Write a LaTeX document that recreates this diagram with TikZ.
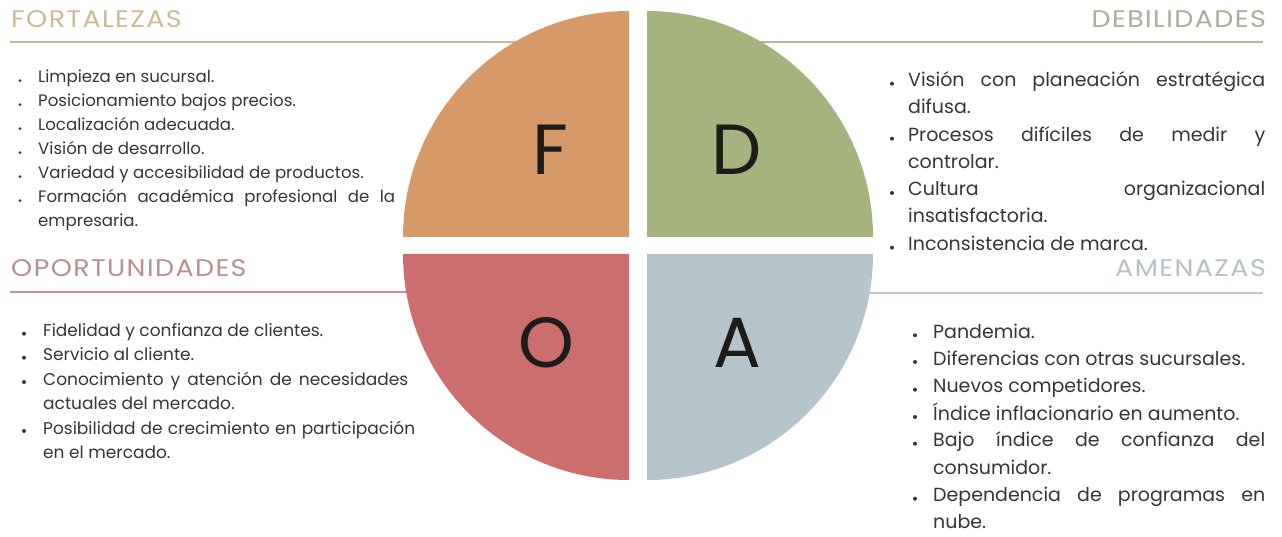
\documentclass[tikz,border=0pt]{standalone}
\usepackage{fontspec}
\setmainfont{Poppins}
\newfontfamily\headfont[LetterSpace=6,FakeStretch=1.12]{Poppins}
\definecolor{fq}{HTML}{D59A67}
\definecolor{dq}{HTML}{A5B37E}
\definecolor{oq}{HTML}{CC6E6E}
\definecolor{aq}{HTML}{B5C5CB}
\definecolor{fh}{HTML}{CDB996}
\definecolor{dh}{HTML}{ADAC98}
\definecolor{oh}{HTML}{B98F8F}
\definecolor{ah}{HTML}{B5C1C7}
\definecolor{fl}{HTML}{C6B894}
\definecolor{dl}{HTML}{B3B798}
\definecolor{ol}{HTML}{C39393}
\definecolor{al}{HTML}{BCC7CC}
\definecolor{txt}{HTML}{363636}
\definecolor{big}{HTML}{1E1C1A}
\tikzset{
  head/.style={inner sep=0pt, font=\headfont\fontsize{24}{24}\selectfont},
  hline/.style={line width=2pt},
  big/.style={anchor=base, inner sep=0pt, text=big, font=\fontsize{71}{71}\selectfont},
  sm/.style={anchor=base west, inner sep=0pt, text=txt, font=\fontsize{16.6}{18}\selectfont},
  om/.style={anchor=base west, inner sep=0pt, text=txt, font=\fontsize{17}{18}\selectfont},
  lg/.style={anchor=base west, inner sep=0pt, text=txt, font=\fontsize{19}{20}\selectfont},
  bul/.style={fill=txt}
}
\begin{document}
\begin{tikzpicture}[x=1pt,y=-1pt]
\useasboundingbox (0,0) rectangle (1282,537);
\fill[white] (0,0) rectangle (1282,537);
% header lines
\draw[hline, fl] (10,42) -- (629,42);
\draw[hline, dl] (647,42) -- (1263,42);
\draw[hline, ol] (10,292) -- (629,292);
\draw[hline, al] (647,293) -- (1263,293);
% quadrants
\fill[fq] (629,237) -- ++(-226pt,0) arc[start angle=180,end angle=90,radius=226pt] -- cycle;
\fill[dq] (647,237) -- ++(226pt,0) arc[start angle=0,end angle=90,radius=226pt] -- cycle;
\fill[oq] (629,254) -- ++(-226pt,0) arc[start angle=180,end angle=270,radius=226pt] -- cycle;
\fill[aq] (647,254) -- ++(226pt,0) arc[start angle=0,end angle=-90,radius=226pt] -- cycle;
% big letters
\node[big] (lf) at (550,175) {F};
\node[big] (ld) at (737,175) {D};
\node[big] (lo) at (546,367) {O};
\node[big] (la) at (737,367) {A};
% headers
\node[head, anchor=base west, text=fh] (hf) at (11,28) {FORTALEZAS};
\node[head, anchor=base east, text=dh] (hd) at (1266,28) {DEBILIDADES};
\node[head, anchor=base west, text=oh] (ho) at (11,277) {OPORTUNIDADES};
\node[head, anchor=base east, text=ah] (ha) at (1266,277) {AMENAZAS};
% Fortalezas list
\foreach \y in {82.7,106.7,130.7,154.7,178.7,202.7} \fill[bul] (20,\y-2) circle (1.5pt);
\node[sm] (f1) at (38,82.7) {Limpieza en sucursal.};
\node[sm] (f2) at (38,106.7) {Posicionamiento bajos precios.};
\node[sm] (f3) at (38,130.7) {Localización adecuada.};
\node[sm] (f4) at (38,154.7) {Visión de desarrollo.};
\node[sm] (f5) at (38,178.7) {Variedad y accesibilidad de productos.};
\node[sm] (f6) at (38,202.7) {\makebox[357pt][s]{Formación académica profesional de la}};
\node[sm] (f7) at (38,226.7) {empresaria.};
% Debilidades list
\foreach \y in {86.7,141.7,196,250.7} \fill[bul] (892,\y-3) circle (2pt);
\node[lg] (d1) at (908,86.7) {\makebox[357pt][s]{Visión con planeación estratégica}};
\node[lg] (d2) at (908,114) {difusa.};
\node[lg] (d3) at (908,141.7) {\makebox[357pt][s]{Procesos difíciles de medir y}};
\node[lg] (d4) at (908,168.5) {controlar.};
\node[lg] (d5) at (908,196) {\makebox[357pt][s]{Cultura organizacional}};
\node[lg] (d6) at (908,223) {insatisfactoria.};
\node[lg] (d7) at (908,250.7) {Inconsistencia de marca.};
% Oportunidades list
\foreach \y in {336.7,360.7,385,434} \fill[bul] (24,\y-3) circle (2pt);
\node[om] (o1) at (43,336.7) {Fidelidad y confianza de clientes.};
\node[om] (o2) at (43,360.7) {Servicio al cliente.};
\node[om] (o3) at (43,385) {\makebox[365pt][s]{Conocimiento y atención de necesidades}};
\node[om] (o4) at (43,409.3) {actuales del mercado.};
\node[om] (o5) at (43,434) {\makebox[372pt][s]{Posibilidad de crecimiento en participación}};
\node[om] (o6) at (43,458.3) {en el mercado.};
% Amenazas list
\foreach \y in {338.3,365,392.7,420,446.7,501.7} \fill[bul] (915,\y-3) circle (2pt);
\node[lg] (a1) at (933,338.3) {Pandemia.};
\node[lg] (a2) at (933,365) {Diferencias con otras sucursales.};
\node[lg] (a3) at (933,392.7) {Nuevos competidores.};
\node[lg] (a4) at (933,420) {Índice inflacionario en aumento.};
\node[lg] (a5) at (933,446.7) {\makebox[332pt][s]{Bajo índice de confianza del}};
\node[lg] (a6) at (933,474) {consumidor.};
\node[lg] (a7) at (933,501.7) {\makebox[332pt][s]{Dependencia de programas en}};
\node[lg] (a8) at (933,528.3) {nube.};
\end{tikzpicture}
\end{document}
